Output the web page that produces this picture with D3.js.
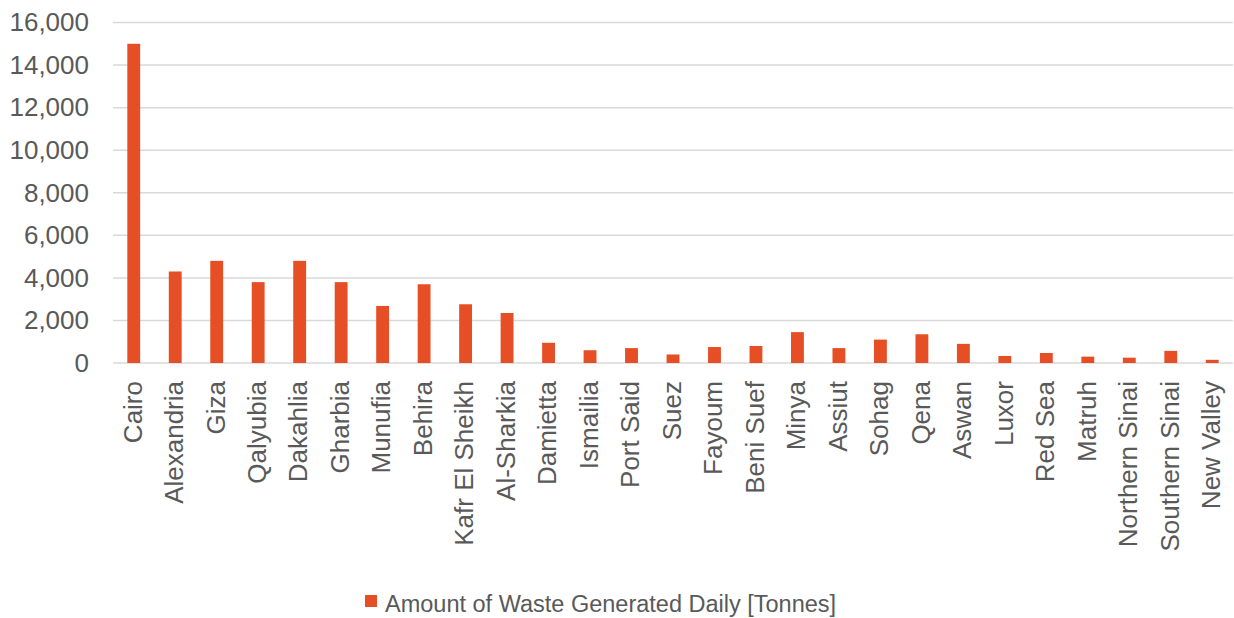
<!DOCTYPE html>
<html>
<head>
<meta charset="utf-8">
<script src="https://cdn.jsdelivr.net/npm/d3@7"></script>
<style>
  html, body { margin: 0; padding: 0; background: #ffffff; }
  svg { display: block; font-family: "Liberation Sans", Arial, sans-serif; }
</style>
</head>
<body>
<svg id="chart" width="1234" height="618"></svg>
<script>
// Governorates of Egypt and the solid waste each produces per day (tonnes)
const governorates = [
  "Cairo", "Alexandria", "Giza", "Qalyubia", "Dakahlia", "Gharbia", "Munufia",
  "Behira", "Kafr El Sheikh", "Al-Sharkia", "Damietta", "Ismailia", "Port Said",
  "Suez", "Fayoum", "Beni Suef", "Minya", "Assiut", "Sohag", "Qena", "Aswan",
  "Luxor", "Red Sea", "Matruh", "Northern Sinai", "Southern Sinai", "New Valley"
];
const wastePerDay = [
  15000, 4300, 4800, 3800, 4800, 3800, 2680,
  3700, 2760, 2350, 950, 600, 700,
  400, 750, 800, 1450, 700, 1100, 1350, 900,
  330, 470, 300, 250, 570, 150
];
const yTicks = [0, 2000, 4000, 6000, 8000, 10000, 12000, 14000, 16000];
const seriesName = "Amount of Waste Generated Daily [Tonnes]";

const barColor = "#E64E25";
const textColor = "#595959";
const gridColor = "#D9D9D9";

const svg = d3.select("#chart");
const plot = { left: 113, right: 1233, top: 22.5, bottom: 363 };

const x = d3.scaleBand()
  .domain(governorates)
  .range([plot.left, plot.right])
  .paddingInner(0.69)
  .paddingOuter(0.345);

const y = d3.scaleLinear()
  .domain([0, 16000])
  .range([plot.bottom, plot.top]);

// horizontal gridlines
svg.append("g")
  .selectAll("line")
  .data(yTicks)
  .join("line")
  .attr("x1", plot.left)
  .attr("x2", plot.right)
  .attr("y1", d => y(d))
  .attr("y2", d => y(d))
  .attr("stroke", gridColor)
  .attr("stroke-width", 1.5);

// y axis labels
const yAxis = d3.axisLeft(y)
  .tickValues(yTicks)
  .tickFormat(d3.format(","))
  .tickSize(0)
  .tickPadding(24);

svg.append("g")
  .attr("transform", `translate(${plot.left},0)`)
  .call(yAxis)
  .call(g => g.select(".domain").remove())
  .call(g => g.selectAll("text")
    .attr("fill", textColor)
    .attr("font-size", 26)
    .attr("font-family", "Liberation Sans, Arial, sans-serif"));

// bars
svg.append("g")
  .selectAll("rect")
  .data(governorates.map((g, i) => ({ name: g, value: wastePerDay[i] })))
  .join("rect")
  .attr("x", d => x(d.name))
  .attr("width", x.bandwidth())
  .attr("y", d => y(d.value))
  .attr("height", d => y(0) - y(d.value))
  .attr("fill", barColor);

// rotated category labels
const xAxis = d3.axisBottom(x).tickSize(0).tickPadding(0);
svg.append("g")
  .attr("transform", `translate(0,${plot.bottom})`)
  .call(xAxis)
  .call(g => g.select(".domain").remove())
  .call(g => g.selectAll("text")
    .attr("fill", textColor)
    .attr("font-size", 26)
    .attr("font-family", "Liberation Sans, Arial, sans-serif")
    .attr("text-anchor", "end")
    .attr("transform", "rotate(-90)")
    .attr("x", -18)
    .attr("y", 0)
    .attr("dy", "0.3em"));

// legend
const legend = svg.append("g").attr("transform", "translate(365,595)");
legend.append("rect")
  .attr("width", 12)
  .attr("height", 12)
  .attr("fill", barColor);
legend.append("text")
  .attr("x", 20)
  .attr("y", 17)
  .attr("fill", textColor)
  .attr("font-size", 23.5)
  .text(seriesName);
</script>
</body>
</html>
